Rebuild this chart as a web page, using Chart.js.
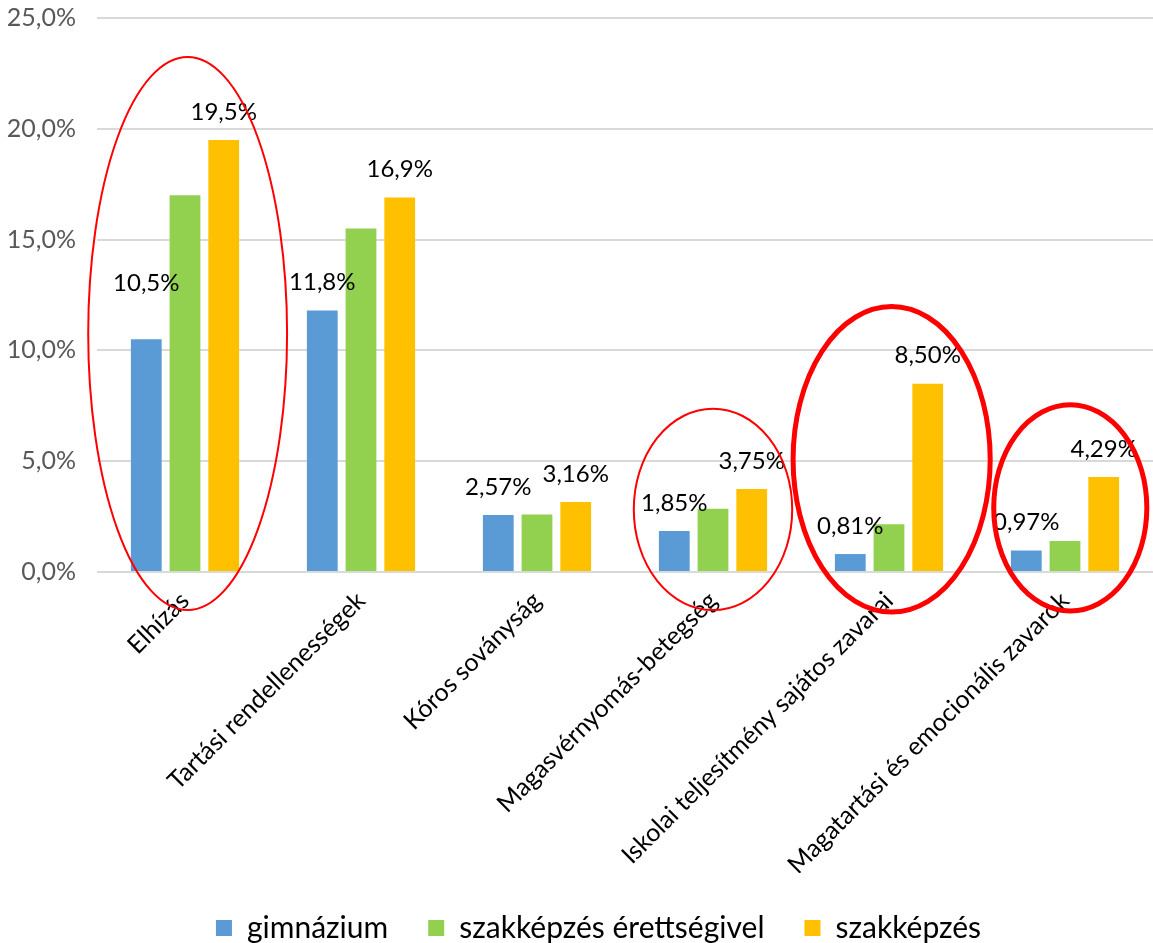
<!DOCTYPE html>
<html>
<head>
<meta charset="utf-8">
<script src="https://cdn.jsdelivr.net/npm/chart.js@4"></script>
<style>
  html, body { margin: 0; padding: 0; background: #fff; }
  #wrap { width: 1153px; height: 943px; position: relative; }
</style>
</head>
<body>
<div id="wrap"><canvas id="chart"></canvas></div>
<script>
'use strict';

// Data
var categories = [
  'Elhízás',
  'Tartási rendellenességek',
  'Kóros soványság',
  'Magasvérnyomás-betegség',
  'Iskolai teljesítmény sajátos zavarai',
  'Magatartási és emocionális zavarok'
];
var seriesNames = ['gimnázium', 'szakképzés érettségivel', 'szakképzés'];
var gimnazium   = [10.5, 11.8, 2.57, 1.85, 0.81, 0.97];
var szakErett   = [17.0, 15.5, 2.6, 2.85, 2.15, 1.4];
var szakkepzes  = [19.5, 16.9, 3.16, 3.75, 8.50, 4.29];
var labelDecimals = [1, 1, 2, 2, 2, 2];
var yTicks = [0, 5, 10, 15, 20, 25];

var FONT = 'Lato, "Open Sans", sans-serif';

function pct(v, d) {
  return v.toFixed(d).replace('.', ',') + '%';
}

// Value labels above the blue and orange bars
var valueLabels = {
  id: 'valueLabels',
  afterDatasetsDraw: function(chart) {
    var ctx = chart.ctx;
    ctx.save();
    ctx.font = '24px ' + FONT;
    ctx.fillStyle = '#000';
    ctx.textAlign = 'center';
    ctx.textBaseline = 'middle';
    [0, 2].forEach(function(di) {
      var meta = chart.getDatasetMeta(di);
      meta.data.forEach(function(bar, i) {
        var v = chart.data.datasets[di].data[i];
        // the first blue label sits higher in the original
        var lift = (di === 0 && i === 0) ? 56 : 28;
        ctx.fillText(pct(v, labelDecimals[i]), bar.x, bar.y - lift);
      });
    });
    ctx.restore();
  }
};

// Red highlight ellipses drawn on top of the chart
var highlights = {
  id: 'highlights',
  afterDraw: function(chart) {
    var xs = chart.scales.x, ys = chart.scales.y, ctx = chart.ctx;
    var cw = xs.getPixelForValue(1) - xs.getPixelForValue(0);
    chart.options.plugins.highlights.items.forEach(function(e) {
      var cx = xs.getPixelForValue(e.cat) + e.dx * cw;
      var top = ys.getPixelForValue(e.top);
      var bot = ys.getPixelForValue(e.bottom);
      ctx.save();
      ctx.strokeStyle = '#ff0000';
      ctx.lineWidth = e.width;
      ctx.beginPath();
      ctx.ellipse(cx, (top + bot) / 2, e.rx * cw, (bot - top) / 2, 0, 0, Math.PI * 2);
      ctx.stroke();
      ctx.restore();
    });
  }
};

// The legend sits a little right of the canvas centre in the original
var legendShift = {
  id: 'legendShift',
  afterLayout: function(chart) {
    if (chart.legend) {
      chart.legend.left += 22;
      chart.legend.right += 22;
    }
  }
};

new Chart(document.getElementById('chart'), {
  type: 'bar',
  data: {
    labels: categories,
    datasets: [
      { label: seriesNames[0], data: gimnazium,  backgroundColor: '#5b9bd5' },
      { label: seriesNames[1], data: szakErett,  backgroundColor: '#92d050' },
      { label: seriesNames[2], data: szakkepzes, backgroundColor: '#ffc000' }
    ]
  },
  plugins: [valueLabels, highlights, legendShift],
  options: {
    responsive: true,
    maintainAspectRatio: false,
    animation: false,
    layout: { padding: { top: 18, left: 0, right: 0, bottom: -10 } },
    datasets: {
      bar: { categoryPercentage: 0.66, barPercentage: 0.795 }
    },
    scales: {
      x: {
        grid: { display: false },
        border: { display: false },
        afterFit: function(axis) {
          axis.paddingLeft = 0;
          axis.paddingRight = 0;
          axis.height = 301;
        },
        ticks: {
          color: '#000',
          font: { family: FONT, size: 25 },
          minRotation: 45,
          maxRotation: 45,
          padding: 6,
          autoSkip: false
        }
      },
      y: {
        min: 0,
        max: 25,
        afterBuildTicks: function(axis) {
          axis.ticks = yTicks.map(function(v) { return { value: v }; });
        },
        afterFit: function(axis) {
          axis.paddingTop = 0;
          axis.paddingBottom = 0;
          axis.width = 97;
        },
        grid: { color: '#d9d9d9', lineWidth: 2, drawTicks: false },
        border: { display: false },
        ticks: {
          color: '#595959',
          font: { family: FONT, size: 25 },
          padding: 21,
          callback: function(v) { return pct(v, 1); }
        }
      }
    },
    plugins: {
      tooltip: { enabled: false },
      legend: {
        position: 'bottom',
        labels: {
          color: '#000',
          boxWidth: 16,
          boxHeight: 16,
          padding: 40,
          font: { family: FONT, size: 30 }
        }
      },
      highlights: {
        items: [
          { cat: 0, dx: 0.015, top: 23.24, bottom: -1.72, rx: 0.565, width: 2 },
          { cat: 3, dx: 0.0,   top: 7.37,  bottom: -1.72, rx: 0.45,  width: 2 },
          { cat: 4, dx: 0.015, top: 11.98, bottom: -1.81, rx: 0.56,  width: 5 },
          { cat: 5, dx: 0.03,  top: 7.55,  bottom: -1.76, rx: 0.435, width: 5 }
        ]
      }
    }
  }
});
</script>
</body>
</html>
